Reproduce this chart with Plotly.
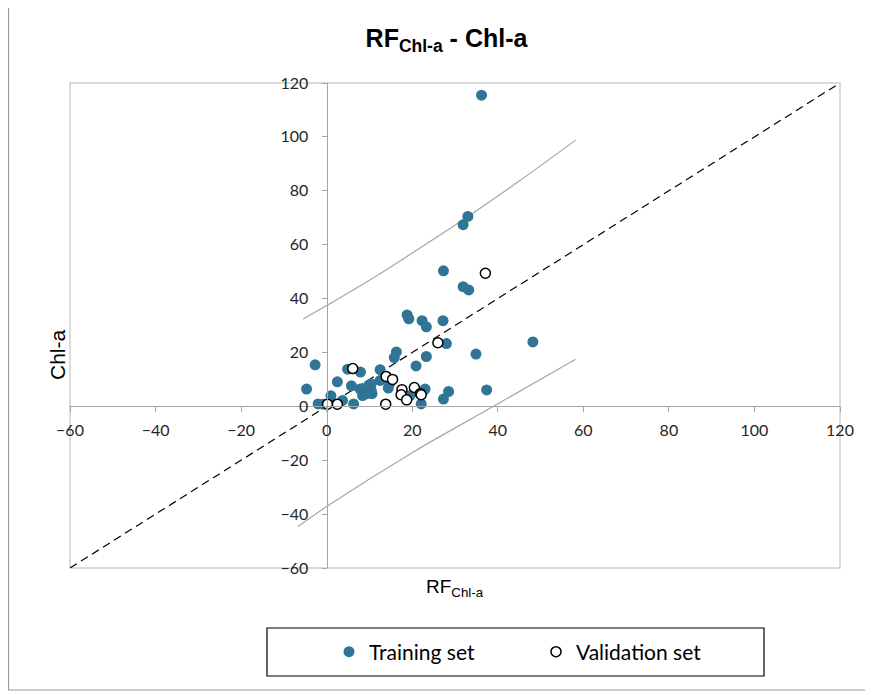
import plotly.graph_objects as go

# ---- data ----
train_x = [36.2, 33.0, 31.9, 27.3, 31.9, 33.2, 18.8, 19.2, 22.3, 23.3, 27.2, 28.0, 48.2,
           34.9, 23.3, 16.3, 15.8, 20.9, -2.7, -4.7, -2.0, -0.8, 1.0, 2.5, 3.7, 4.9,
           5.8, 6.3, 7.9, 7.8, 8.4, 9.8, 10.4, 10.6, 12.5, 12.5, 14.4, 10.4, 9.4,
           23.0, 22.3, 22.1, 19.4, 27.3, 28.5, 37.4, 14.8]
train_y = [115.5, 70.5, 67.4, 50.3, 44.4, 43.2, 33.9, 32.5, 31.8, 29.5, 31.8, 23.3, 23.9,
           19.4, 18.5, 20.2, 18.1, 15.0, 15.4, 6.4, 0.9, 0.8, 3.9, 9.1, 2.2, 13.8,
           7.6, 0.9, 12.7, 6.4, 4.0, 7.8, 8.4, 4.7, 13.6, 9.6, 6.8, 6.0, 4.7,
           6.4, 5.0, 0.9, 3.9, 2.7, 5.5, 6.1, 8.6]

valid_x = [0.2, 2.5, 6.1, 13.8, 13.9, 15.4, 17.6, 17.4, 18.7, 20.5, 21.9, 22.1, 26.0, 37.1]
valid_y = [0.8, 0.8, 14.0, 0.8, 11.1, 10.0, 6.2, 4.3, 2.4, 7.0, 4.7, 4.3, 23.6, 49.4]

diag = [-60, 120]

upper_x = [-5.5, 0, 10, 20, 32, 45, 58.2]
upper_y = [32.4, 37.4, 46.8, 56.9, 69.3, 83.6, 98.8]
lower_x = [-6.7, 0, 20, 39, 58.2]
lower_y = [-44.6, -37.2, -17.2, 0, 17.5]

ticks = [-60, -40, -20, 0, 20, 40, 60, 80, 100, 120]

BLUE = "#2E7596"
GRAY = "#A6A6A6"

# the page places the figure 8 px from the window's top-left corner
OFF = 8
W, H = 873 - OFF, 695 - OFF

fig = go.Figure()

fig.add_trace(go.Scatter(x=upper_x, y=upper_y, mode="lines", line=dict(color=GRAY, width=1.2, shape="spline"),
                         showlegend=False, hoverinfo="skip"))
fig.add_trace(go.Scatter(x=lower_x, y=lower_y, mode="lines", line=dict(color=GRAY, width=1.2, shape="spline"),
                         showlegend=False, hoverinfo="skip"))
fig.add_trace(go.Scatter(x=diag, y=diag, mode="lines", line=dict(color="black", width=1.2, dash="8px,5px"),
                         showlegend=False, hoverinfo="skip"))
fig.add_trace(go.Scatter(x=train_x, y=train_y, mode="markers", name="Training set",
                         marker=dict(color=BLUE, size=11, line=dict(width=0))))
fig.add_trace(go.Scatter(x=valid_x, y=valid_y, mode="markers", name="Validation set",
                         marker=dict(color="white", size=10, line=dict(color="black", width=1.5))))

axis_common = dict(range=[-60, 120], tickvals=ticks, showgrid=False, zeroline=False,
                   showline=True, linecolor=GRAY, linewidth=1.2,
                   ticks="outside", ticklen=5, tickcolor=GRAY, tickwidth=1.2,
                   tickfont=dict(family="Lato, Open Sans, sans-serif", size=16, color="#262626"),
                   anchor="free", position=1/3)

fig.update_layout(
    width=W, height=H,
    margin=dict(l=70 - OFF, r=W - (840 - OFF), t=83 - OFF, b=H - (568 - OFF)),
    paper_bgcolor="white", plot_bgcolor="white",
    xaxis=dict(**axis_common, ticklabelstandoff=4),
    yaxis=dict(**axis_common, ticklabelstandoff=10),
    title=dict(text="<b>RF<sub>Chl-a</sub> - Chl-a</b>", x=(446.5 - OFF) / W, xanchor="center",
               y=1 - (38 - OFF) / H, yanchor="middle",
               font=dict(family="Liberation Sans, Arial, sans-serif", size=25, color="black")),
    showlegend=True,
    legend=dict(orientation="h", x=(329 - 70) / 770, xanchor="left", y=(568 - 652) / 485, yanchor="middle",
                entrywidth=162, font=dict(family="Lato, Open Sans, sans-serif", size=21, color="black"),
                bgcolor="rgba(0,0,0,0)", borderwidth=0),
)

fig.add_annotation(text="RF<sub>Chl-a</sub>", xref="paper", yref="paper", x=(455 - 70) / 770,
                   y=(568 - 588) / 485, xanchor="center", yanchor="middle", showarrow=False,
                   font=dict(family="Liberation Sans, Arial, sans-serif", size=19, color="black"))
fig.add_annotation(text="Chl-a", xref="paper", yref="paper", x=(57 - 70) / 770,
                   y=(568 - 355) / 485, xanchor="center", yanchor="middle", showarrow=False, textangle=-90,
                   font=dict(family="Liberation Sans, Arial, sans-serif", size=21, color="black"))

# plot-area frame
fig.add_shape(type="rect", xref="paper", yref="paper", x0=0, y0=0, x1=1, y1=1,
              line=dict(color="#D0D0D0", width=1.5), layer="below")
# legend frame
fig.add_shape(type="rect", xref="paper", yref="paper",
              x0=(267 - 70) / 770, x1=(764 - 70) / 770, y0=(568 - 676) / 485, y1=(568 - 628) / 485,
              line=dict(color="black", width=1.2))
# outer chart frame (top edge lies above the visible window)
fig.add_shape(type="rect", xref="paper", yref="paper",
              x0=(8.5 - 70) / 770, x1=(867 - 70) / 770, y0=(568 - 690) / 485, y1=(568 + 20) / 485,
              line=dict(color="#999999", width=1.2))

fig.write_html("out.html")
